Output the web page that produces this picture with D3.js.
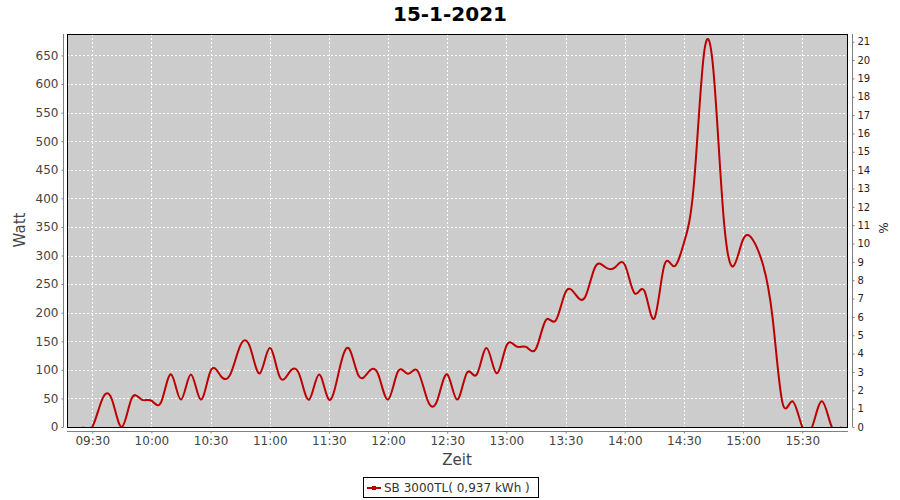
<!DOCTYPE html>
<html>
<head>
<meta charset="utf-8">
<script src="https://cdn.jsdelivr.net/npm/d3@7/dist/d3.min.js"></script>
<style>
  html, body { margin: 0; padding: 0; background: #ffffff; }
  svg { display: block; font-family: "DejaVu Sans", sans-serif; }
</style>
</head>
<body>
<svg id="chart" width="900" height="500"></svg>
<script>
// ---- data (5-minute samples, minutes since midnight) ----
const times = [565,570,575,580,585,590,595,600,605,610,615,620,625,630,635,640,645,650,655,660,
               665,670,675,680,685,690,695,700,705,710,715,720,725,730,735,740,745,750,755,760,
               765,770,775,780,785,790,795,800,805,810,815,820,825,830,835,840,845,850,855,860,
               865,870,875,880,885,890,895,900,905,910,915,920,925,930,935,940,945,950];
const watts = [0,0,48,48,0,50,48,46,44,92,48,92,48,98,90,92,142,140,94,138,
               88,96,92,48,92,48,96,138,90,96,92,48,97,93,98,47,47,92,48,95,
               92,138,94,142,141,140,137,187,186,236,232,228,280,280,279,284,234,238,190,282,
               281,322,422,648,622,372,281,328,327,285,190,42,45,0,0,45,0,0];
const seriesName = "SB 3000TL( 0,937 kWh )";
const title = "15-1-2021";
const leftTicks = [0,50,100,150,200,250,300,350,400,450,500,550,600,650];
const rightTicks = d3.range(0, 22);
const xTicks = [570,600,630,660,690,720,750,780,810,840,870,900,930];

// ---- layout ----
const plot = {left: 67, right: 848, top: 34, bottom: 427};
const svg = d3.select("#chart");

const x = d3.scaleLinear().domain([557.2, 953.2]).range([plot.left, plot.right]);
const y = d3.scaleLinear().domain([0, 687.5]).range([plot.bottom, plot.top]);
const y2 = d3.scaleLinear().domain([0, 21.42]).range([plot.bottom, plot.top]);

const fmtTime = m => String(Math.floor(m / 60)).padStart(2, "0") + ":" + String(m % 60).padStart(2, "0");

// title
svg.append("text").attr("x", 450).attr("y", 21).attr("text-anchor", "middle")
  .attr("font-size", 20).attr("font-weight", "bold").attr("fill", "#000").text(title);

// plot background
svg.append("rect").attr("x", plot.left).attr("y", plot.top)
  .attr("width", plot.right - plot.left).attr("height", plot.bottom - plot.top)
  .attr("fill", "#cccccc");

// grid
const grid = svg.append("g").attr("stroke", "#ffffff").attr("stroke-width", 1).attr("stroke-dasharray", "2,2");
grid.selectAll("line.h").data(leftTicks.filter(d => d > 0)).join("line")
  .attr("x1", plot.left).attr("x2", plot.right)
  .attr("y1", d => Math.round(y(d)) + 0.5).attr("y2", d => Math.round(y(d)) + 0.5);
grid.selectAll("line.v").data(xTicks).join("line")
  .attr("y1", plot.top).attr("y2", plot.bottom)
  .attr("x1", d => Math.round(x(d)) + 0.5).attr("x2", d => Math.round(x(d)) + 0.5);

// line
svg.append("clipPath").attr("id", "clip").append("rect")
  .attr("x", plot.left).attr("y", plot.top)
  .attr("width", plot.right - plot.left).attr("height", plot.bottom - plot.top);
const pts = times.map((t, i) => [t, watts[i]]);
svg.append("path").datum(pts).attr("clip-path", "url(#clip)")
  .attr("fill", "none").attr("stroke", "#bb0000").attr("stroke-width", 2)
  .attr("d", d3.line().x(d => x(d[0])).y(d => y(d[1])).curve(d3.curveNatural));

// plot border
svg.append("rect").attr("x", plot.left + 0.5).attr("y", plot.top + 0.5)
  .attr("width", plot.right - plot.left - 1).attr("height", plot.bottom - plot.top)
  .attr("fill", "none").attr("stroke", "#000").attr("stroke-width", 1);

// left axis
const gL = svg.append("g").attr("transform", "translate(63.5,0)")
  .call(d3.axisLeft(y).tickValues(leftTicks).tickSize(2).tickPadding(3));
gL.select(".domain").attr("stroke", "#808080").attr("d", `M-0,${plot.top}V${plot.bottom}`);
gL.selectAll(".tick line").attr("stroke", "#808080");
gL.selectAll("text").attr("font-size", 12).attr("fill", "#444").attr("font-family", "DejaVu Sans");

// right axis
const gR = svg.append("g").attr("transform", "translate(852.5,0)")
  .call(d3.axisRight(y2).tickValues(rightTicks).tickSize(2).tickPadding(3).tickFormat(d3.format("d")));
gR.select(".domain").attr("stroke", "#808080").attr("d", `M0,${plot.top}V${plot.bottom}`);
gR.selectAll(".tick line").attr("stroke", "#808080");
gR.selectAll("text").attr("font-size", 10).attr("fill", "#222").attr("font-family", "DejaVu Sans");

// bottom axis
const gB = svg.append("g").attr("transform", "translate(0,431.5)")
  .call(d3.axisBottom(x).tickValues(xTicks).tickSize(2).tickPadding(3).tickFormat(fmtTime));
gB.select(".domain").attr("stroke", "#808080").attr("d", `M${plot.left},0H${plot.right}`);
gB.selectAll(".tick line").attr("stroke", "#808080");
gB.selectAll("text").attr("font-size", 12).attr("fill", "#444").attr("font-family", "DejaVu Sans");

// axis labels
svg.append("text").attr("transform", "translate(25,230) rotate(-90)").attr("text-anchor", "middle")
  .attr("font-size", 15).attr("fill", "#444").text("Watt");
svg.append("text").attr("x", 457).attr("y", 465).attr("text-anchor", "middle")
  .attr("font-size", 15).attr("fill", "#444").text("Zeit");
svg.append("text").attr("transform", "translate(888,228) rotate(-90)").attr("text-anchor", "middle")
  .attr("font-size", 12).attr("fill", "#222").text("%");

// legend
const lg = svg.append("g");
lg.append("rect").attr("x", 363.5).attr("y", 477.5).attr("width", 175).attr("height", 20)
  .attr("fill", "#fff").attr("stroke", "#000");
lg.append("line").attr("x1", 367).attr("x2", 381).attr("y1", 488).attr("y2", 488)
  .attr("stroke", "#bb0000").attr("stroke-width", 2);
lg.append("rect").attr("x", 372).attr("y", 486).attr("width", 4).attr("height", 4).attr("fill", "#bb0000");
lg.append("text").attr("x", 384).attr("y", 492).attr("font-size", 12).attr("fill", "#333").text(seriesName);
</script>
</body>
</html>
